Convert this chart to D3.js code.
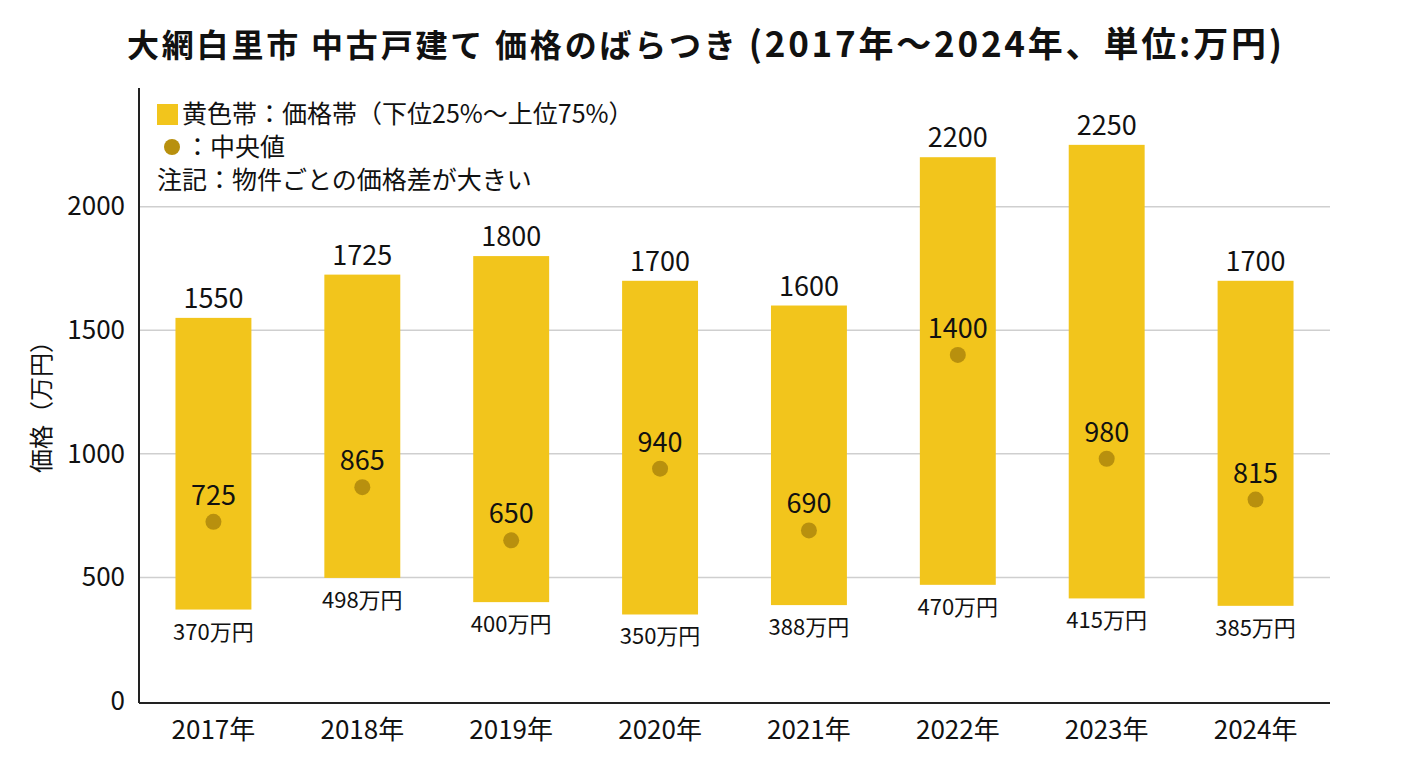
<!DOCTYPE html>
<html lang="ja">
<head>
<meta charset="utf-8">
<script src="https://cdn.jsdelivr.net/npm/d3@7"></script>
<style>
  html, body { margin: 0; padding: 0; background: #fff; }
  svg { display: block; font-family: "Noto Sans CJK JP", "Noto Sans", sans-serif; }
</style>
</head>
<body>
<svg id="chart" width="1408" height="768"></svg>
<script>
// Data (万円)
const years   = ["2017年", "2018年", "2019年", "2020年", "2021年", "2022年", "2023年", "2024年"];
const lower   = [370, 498, 400, 350, 388, 470, 415, 385];
const upper   = [1550, 1725, 1800, 1700, 1600, 2200, 2250, 1700];
const median  = [725, 865, 650, 940, 690, 1400, 980, 815];
const yTicks  = [0, 500, 1000, 1500, 2000];
const legendLines = ["黄色帯：価格帯（下位25%〜上位75%）", "：中央値", "注記：物件ごとの価格差が大きい"];

const BAR_COLOR = "#f2c51c";
const DOT_COLOR = "#b8900e";

const rows = years.map((y, i) => ({ year: y, lo: lower[i], hi: upper[i], med: median[i] }));

const svg = d3.select("#chart");
const plot = { left: 139, right: 1330, top: 88, bottom: 701 };

const x = d3.scaleBand().domain(years).range([plot.left, plot.right]).paddingInner(0.49).paddingOuter(0.245);
const y = d3.scaleLinear().domain([0, 2480]).range([plot.bottom, plot.top]);

// Title
const title = svg.append("text")
  .attr("x", 127).attr("y", 57)
  .attr("textLength", 1155).attr("lengthAdjust", "spacing")
  .attr("font-weight", 700).attr("fill", "#111");
title.append("tspan").attr("font-size", 32).text("大網白里市 中古戸建て 価格のばらつき ");
title.append("tspan").attr("font-size", 35).text("(2017年〜2024年、単位:万円)");

// Gridlines
svg.append("g")
  .selectAll("line")
  .data(yTicks.filter(d => d > 0))
  .join("line")
  .attr("x1", plot.left).attr("x2", plot.right)
  .attr("y1", d => y(d)).attr("y2", d => y(d))
  .attr("stroke", "#cfcfcf").attr("stroke-width", 1.5);

// Y axis
const yAxis = svg.append("g")
  .attr("transform", `translate(${plot.left},0)`)
  .call(d3.axisLeft(y).tickValues(yTicks).tickFormat(d3.format("d")).tickSize(0).tickPadding(14));
yAxis.select(".domain").remove();
yAxis.selectAll("text").attr("font-size", 26).attr("fill", "#111")
  .attr("font-family", "'Noto Sans CJK JP', sans-serif");
svg.append("line")
  .attr("x1", plot.left).attr("x2", plot.left).attr("y1", plot.top).attr("y2", plot.bottom + 2)
  .attr("stroke", "#222").attr("stroke-width", 2);

// X axis
const xAxis = svg.append("g")
  .attr("transform", `translate(0,${plot.bottom + 2})`)
  .call(d3.axisBottom(x).tickSize(0).tickPadding(18));
xAxis.select(".domain").attr("stroke", "#222").attr("stroke-width", 2)
  .attr("d", `M${plot.left},0H${plot.right}`);
xAxis.selectAll("text").attr("font-size", 26).attr("fill", "#111")
  .attr("font-family", "'Noto Sans CJK JP', sans-serif");

// Y axis title
svg.append("text")
  .attr("transform", `translate(50,401) rotate(-90)`)
  .attr("text-anchor", "middle")
  .attr("font-size", 24).attr("fill", "#111")
  .text("価格（万円）");

// Bars (interquartile band)
const g = svg.append("g");
g.selectAll("rect.band")
  .data(rows)
  .join("rect")
  .attr("class", "band")
  .attr("x", d => x(d.year))
  .attr("width", x.bandwidth())
  .attr("y", d => y(d.hi))
  .attr("height", d => y(d.lo) - y(d.hi))
  .attr("fill", BAR_COLOR);

// Upper value labels
g.selectAll("text.hi")
  .data(rows)
  .join("text")
  .attr("class", "hi")
  .attr("x", d => x(d.year) + x.bandwidth() / 2)
  .attr("y", d => y(d.hi) - 10)
  .attr("text-anchor", "middle")
  .attr("font-size", 27).attr("fill", "#111")
  .text(d => d.hi);

// Lower value labels
g.selectAll("text.lo")
  .data(rows)
  .join("text")
  .attr("class", "lo")
  .attr("x", d => x(d.year) + x.bandwidth() / 2)
  .attr("y", d => y(d.lo) + 30)
  .attr("text-anchor", "middle")
  .attr("font-size", 22).attr("fill", "#111")
  .text(d => `${d.lo}万円`);

// Median dots
g.selectAll("circle.med")
  .data(rows)
  .join("circle")
  .attr("class", "med")
  .attr("cx", d => x(d.year) + x.bandwidth() / 2)
  .attr("cy", d => y(d.med))
  .attr("r", 8)
  .attr("fill", DOT_COLOR);

g.selectAll("text.med")
  .data(rows)
  .join("text")
  .attr("class", "med")
  .attr("x", d => x(d.year) + x.bandwidth() / 2)
  .attr("y", d => y(d.med) - 17)
  .attr("text-anchor", "middle")
  .attr("font-size", 27).attr("fill", "#111")
  .text(d => d.med);

// Legend
const lg = svg.append("g").attr("font-size", 25).attr("fill", "#111");
lg.append("rect").attr("x", 157).attr("y", 104).attr("width", 21).attr("height", 21).attr("fill", BAR_COLOR);
lg.append("circle").attr("cx", 172).attr("cy", 147).attr("r", 8).attr("fill", DOT_COLOR);
lg.selectAll("text")
  .data(legendLines)
  .join("text")
  .attr("x", (d, i) => i === 0 ? 182 : i === 1 ? 185 : 157)
  .attr("y", (d, i) => 123 + i * 33)
  .text(d => d);
</script>
</body>
</html>
